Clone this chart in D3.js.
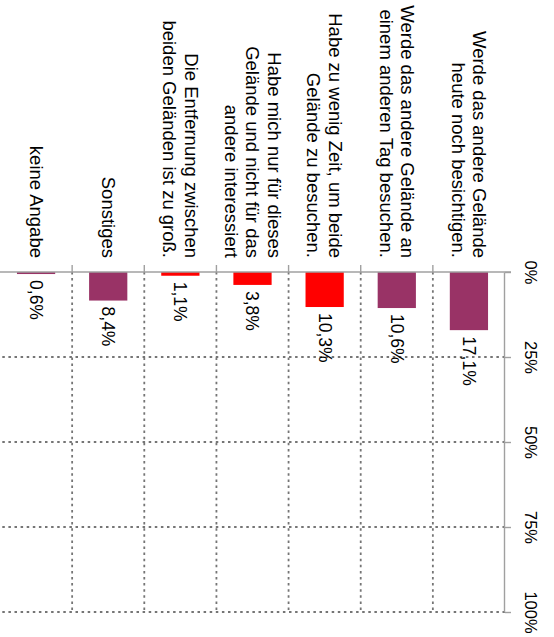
<!DOCTYPE html>
<html lang="de">
<head>
<meta charset="UTF-8">
<title>Gründe für den Besuch nur eines Geländes</title>
<script src="https://d3js.org/d3.v7.min.js"></script>
<style>
    body { margin: 0; background: #fff; }
    svg { display: block; font-family: "Liberation Sans", Arial, sans-serif; }
    .grid line { stroke: #757575; stroke-width: 1.8; stroke-dasharray: 2.5 3.6; }
    .axis path, .axis line { stroke: #a0a0a0; stroke-width: 1.4; }
</style>
</head>
<body>
<div id="chart"></div>
<script>
    // answers (label lines) and shares in percent
    const categories = [
        ["Werde das andere Gelände", "heute noch besichtigen."],
        ["Werde das andere Gelände an", "einem anderen Tag besuchen."],
        ["Habe zu wenig Zeit, um beide", "Gelände zu besuchen."],
        ["Habe mich nur für dieses", "Gelände und nicht für das", "andere interessiert"],
        ["Die Entfernung zwischen", "beiden Geländen ist zu groß."],
        ["Sonstiges"],
        ["keine Angabe"]
    ];
    const values = [17.1, 10.6, 10.3, 3.8, 1.1, 8.4, 0.6];
    const highlighted = [2, 3, 4]; // bars drawn in red
    const ticks = [0, 25, 50, 75, 100];

    const W = 554, H = 637;
    // the chart is drawn as a horizontal bar chart, then turned by 90 degrees
    const margin = {top: 49, right: 25, bottom: 0, left: 272};
    const innerW = H - margin.left - margin.right;   // value axis length
    const innerH = W - margin.top - margin.bottom;   // category axis length

    const de = d3.formatLocale({decimal: ",", thousands: ".", grouping: [3], currency: ["", "€"]});
    const pct = de.format(".1f");

    const idx = d3.range(categories.length);

    const x = d3.scaleLinear().domain([0, 100]).range([0, innerW]);
    const y = d3.scaleBand().domain(idx).range([0, innerH])
        .paddingInner(0.47).paddingOuter(0.235);
    const yCell = d3.scaleBand().domain(idx).range([0, innerH]);

    const svg = d3.select("#chart").append("svg")
        .attr("width", W)
        .attr("height", H);

    const g = svg.append("g")
        .attr("transform", `translate(${W},0) rotate(90) translate(${margin.left},${margin.top})`);

    // dotted grid
    const grid = g.append("g").attr("class", "grid");
    grid.selectAll(".vg")
        .data(ticks.slice(1))
        .join("line")
        .attr("class", "vg")
        .attr("x1", d => x(d)).attr("x2", d => x(d))
        .attr("y1", 0).attr("y2", innerH);
    grid.selectAll(".hg")
        .data(idx.slice(1))
        .join("line")
        .attr("class", "hg")
        .attr("x1", 0).attr("x2", innerW)
        .attr("y1", d => yCell(d)).attr("y2", d => yCell(d));

    // bars
    g.append("g")
        .selectAll("rect")
        .data(idx)
        .join("rect")
        .attr("x", 0)
        .attr("y", i => y(i))
        .attr("width", i => x(values[i]))
        .attr("height", y.bandwidth())
        .attr("fill", i => highlighted.includes(i) ? "#ff0000" : "#993366");

    // value axis (top)
    const xAxis = g.append("g")
        .attr("class", "axis")
        .call(d3.axisTop(x).tickValues(ticks).tickSize(6).tickSizeOuter(0).tickPadding(14)
            .tickFormat(d => d + "%"));
    xAxis.selectAll("text")
        .attr("fill", "#000")
        .attr("font-size", 16.5);

    // category axis (left) with separator ticks
    const yAxis = g.append("g").attr("class", "axis");
    yAxis.append("line")
        .attr("x1", 0).attr("x2", 0)
        .attr("y1", -6).attr("y2", innerH);
    yAxis.selectAll(".sep")
        .data(idx.slice(1))
        .join("line")
        .attr("class", "sep")
        .attr("x1", -7).attr("x2", 0)
        .attr("y1", d => yCell(d)).attr("y2", d => yCell(d));

    // category labels, multi line, right aligned
    const fs = 18.5, lineH = 21.5;
    const labels = g.append("g")
        .attr("font-size", fs)
        .attr("text-anchor", "end")
        .selectAll("text")
        .data(idx)
        .join("text")
        .attr("x", -14)
        .attr("y", i => y(i) + y.bandwidth() / 2);
    labels.selectAll("tspan")
        .data(i => categories[i].map((t, k, a) => ({t, k, n: a.length})))
        .join("tspan")
        .attr("x", -14)
        .attr("dy", (d) => d.k === 0 ? (0.35 * fs - (d.n - 1) / 2 * lineH) : lineH)
        .text(d => d.t);

    // value labels
    g.append("g")
        .attr("font-size", 17.5)
        .selectAll("text")
        .data(idx)
        .join("text")
        .attr("x", i => x(values[i]) + 6)
        .attr("y", i => y(i) + y.bandwidth() / 2)
        .attr("dy", "0.35em")
        .text(i => pct(values[i]) + "%");
</script>
</body>
</html>
